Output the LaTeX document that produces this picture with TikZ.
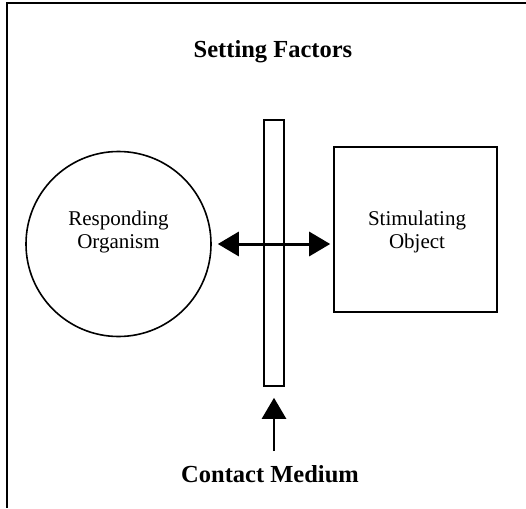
\documentclass[tikz,border=0pt]{standalone}
\usepackage{fontspec}
\setmainfont{Liberation Serif}
\usetikzlibrary{arrows.meta}
\begin{document}
\begin{tikzpicture}[x=1pt,y=-1pt,
  shape line/.style={draw=black,line width=1.6pt},
  bigtitle/.style={font=\bfseries\fontsize{24.5}{28}\selectfont,inner sep=0pt},
  body/.style={font=\fontsize{21}{22.5}\selectfont,align=center,inner sep=0pt},
  fat arrow/.style={line width=2.5pt,-{Triangle[length=21pt,width=24pt]}},
  dbl arrow/.style={line width=3pt,{Triangle[length=21pt,width=24pt]}-{Triangle[length=21pt,width=24pt]}}]
\useasboundingbox (0,0) rectangle (526,508);
\fill[white] (0,0) rectangle (526,508);
% frame (top and left edges)
\coordinate (ftl) at (7,3);
\coordinate (ftr) at (526,3);
\coordinate (fbl) at (7,508);
\draw[line width=2.2pt] (ftr) -- (ftl) -- (fbl);
% title
\node[bigtitle] (title) at (273,52) {Setting Factors};
% responding organism
\node[shape line,circle,minimum size=185pt,inner sep=0pt] (org) at (118.5,244) {};
\node[body] (orgtxt) at (118.5,232) {Responding\\Organism};
% stimulating object
\node[shape line,rectangle,minimum width=163pt,minimum height=165pt,inner sep=0pt] (obj) at (415.5,229.5) {};
\node[body] (objtxt) at (417,232) {Stimulating\\Object};
% contact medium bar
\node[shape line,rectangle,minimum width=20pt,minimum height=266pt,inner sep=0pt] (bar) at (274,253) {};
% double arrow between organism and object
\draw[dbl arrow,shorten <=6pt,shorten >=3pt] (org.east) -- (org.east -| obj.west);
% contact medium label and arrow to the bar
\node[bigtitle] (cm) at (270,474) {Contact Medium};
\draw[fat arrow,shorten <=14pt,shorten >=11pt] (cm.north -| bar.south) -- (bar.south);
\end{tikzpicture}
\end{document}
